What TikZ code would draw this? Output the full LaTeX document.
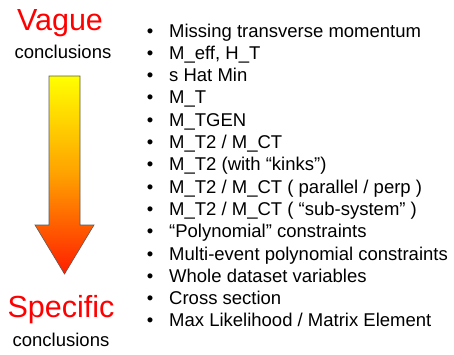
\documentclass[tikz,border=0pt]{standalone}
\usepackage{fontspec}
\setmainfont{Liberation Sans}
\begin{document}
\begin{tikzpicture}[x=1pt,y=-1pt,
  big/.style={text=red,font=\fontsize{30.5}{31}\selectfont,inner sep=0pt},
  small/.style={text=black,font=\fontsize{18.5}{18.5}\selectfont,inner sep=0pt},
  item/.style={anchor=base west,font=\fontsize{18.5}{18.5}\selectfont,inner sep=0pt},
  dot/.style={anchor=base,font=\fontsize{18.5}{18.5}\selectfont,inner sep=0pt}]
\useasboundingbox (0,0) rectangle (454,354);
% headings
\node[big,anchor=base] (vague) at (60,30) {Vague};
\node[small,anchor=base] (vcon) at (63,58) {conclusions};
\node[big,anchor=base] (spec) at (61,317) {Specific};
\node[small,anchor=base] (scon) at (61,346) {conclusions};
% gradient arrow
\shade[top color=yellow,bottom color={rgb,255:red,255;green,30;blue,0},
  middle color={rgb,255:red,255;green,160;blue,0},draw={rgb,255:red,90;green,90;blue,90},line width=0.6pt]
  (49,76) -- (80,76) -- (80,225) -- (94,225) -- (64.5,274) -- (35,225) -- (49,225) -- cycle;
% list
\foreach \t [count=\i] in {Missing transverse momentum,{M\_eff, H\_T},s Hat Min,M\_T,M\_TGEN,
  M\_T2 / M\_CT,M\_T2 (with “kinks”),M\_T2 / M\_CT ( parallel / perp ),
  M\_T2 / M\_CT ( “sub-system” ),“Polynomial” constraints,Multi-event polynomial constraints,
  Whole dataset variables,Cross section,Max Likelihood / Matrix Element}{
  \node[dot] (b\i) at (150,{37+22.3*(\i-1)}) {•};
  \node[item] (t\i) at (169,{37+22.3*(\i-1)}) {\t};
}
\end{tikzpicture}
\end{document}
